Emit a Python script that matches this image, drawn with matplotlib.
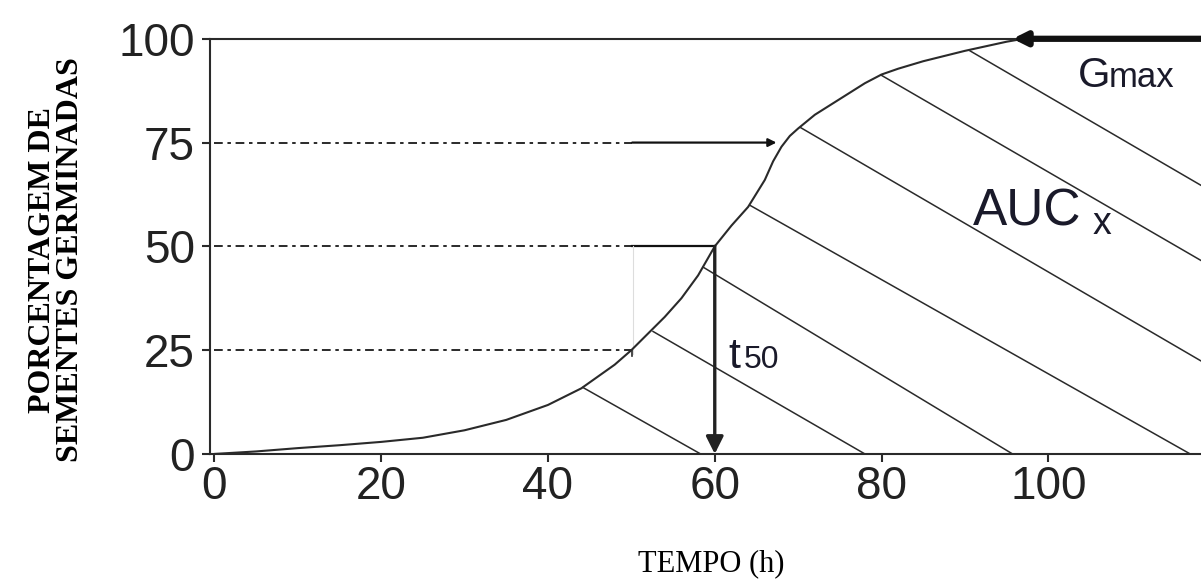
import matplotlib.pyplot as plt
import numpy as np

plt.rcParams['font.family'] = ['Liberation Sans', 'DejaVu Sans']

# curva de germinacao acumulada
tempo = [0, 5, 10, 15, 20, 25, 30, 35, 40, 44, 48, 50, 52, 54, 56, 58, 60,
         62, 64, 66, 67, 68, 69, 70, 72, 75, 78, 80, 82, 85, 90, 95, 97, 118.3]
germ = [0, 0.6, 1.4, 2.1, 2.9, 3.9, 5.7, 8.2, 11.8, 15.8, 21.5, 25, 29, 33,
        37.5, 43, 50, 55, 59.5, 66, 70.5, 74, 76.6, 78.4, 81.7, 85.5, 89.3,
        91.4, 92.8, 94.6, 97.1, 99.3, 100, 100]

# linhas de hachura da area sob a curva (inicio na curva, fim na borda)
hatch_x0 = [44.2, 52.6, 58.6, 64.3, 70.3, 79.9, 90.6]
hatch_y0 = [16.0, 29.5, 45.0, 59.8, 78.6, 91.3, 97.1]
hatch_x1 = [58.3, 78.0, 95.7, 117.0, 118.3, 118.3, 118.3]
hatch_y1 = [0, 0, 0, 0, 22.4, 46.6, 64.7]

niveis = [75, 50, 25]
xticks = [0, 20, 40, 60, 80, 100]
yticks = [0, 25, 50, 75, 100]
t50 = 60
gmax_x = 95.7

cor = '#2a2a2a'
cor_txt = '#1a1a2a'

fig = plt.figure(figsize=(12.01, 5.79), dpi=100)
ax = fig.add_axes([0.175, 0.216, 0.825, 0.717])

ax.plot(tempo, germ, color=cor, lw=1.5, solid_capstyle='round',
        solid_joinstyle='round', zorder=3)

for x0, y0, x1, y1 in zip(hatch_x0, hatch_y0, hatch_x1, hatch_y1):
    ax.plot([x0, x1], [y0, y1], color=cor, lw=1.1, clip_on=False)

# linhas tracejadas de referencia
for nivel in niveis:
    ax.plot([0, 50.1], [nivel, nivel], color=cor, lw=1.4,
            dashes=(4.5, 2.4, 1.8, 2.4))

# setas horizontais para 75 e 50
ax.annotate('', xy=(67.4, 75), xytext=(50.1, 75),
            arrowprops=dict(arrowstyle='-|>', lw=1.6, color='#111',
                            mutation_scale=12, shrinkA=0, shrinkB=0))
ax.plot([50.1, t50], [50, 50], color='#111', lw=1.6)
ax.plot([50.2, 50.2], [50, 24], color='#dddddd', lw=0.8)
ax.plot([50.1, 50.1], [25, 23.5], color=cor, lw=1.2)

# seta t50
ax.annotate('', xy=(t50, 0), xytext=(t50, 50),
            arrowprops=dict(arrowstyle='-|>', lw=2.4, color='#222',
                            mutation_scale=26, shrinkA=0, shrinkB=0))

# seta Gmax
ax.annotate('', xy=(gmax_x, 100), xytext=(118.3, 100),
            arrowprops=dict(arrowstyle='-|>', lw=4.5, color='#111',
                            mutation_scale=20, shrinkA=0, shrinkB=0),
            annotation_clip=False)

# rotulos
ax.text(61.6, 20.7, 't', fontsize=31, color=cor_txt, va='baseline')
ax.text(63.5, 20.7, '50', fontsize=23, color=cor_txt, va='baseline')
ax.text(103.5, 88.4, 'G', fontsize=30, color=cor_txt, va='baseline')
ax.text(107.2, 88.4, 'max', fontsize=25, color=cor_txt, va='baseline')
ax.text(91.0, 55.0, 'AUC', fontsize=37, color=cor_txt, va='baseline')
ax.text(105.3, 53.0, 'x', fontsize=27, color=cor_txt, va='baseline')

ax.set_xlim(-0.5, 118.3)
ax.set_ylim(0, 100)
ax.set_xticks(xticks)
ax.set_yticks(yticks)
ax.tick_params(axis='both', labelsize=33, colors=cor, labelcolor='#222',
               length=6, width=1.5, direction='out')
ax.tick_params(axis='x', pad=2)
ax.tick_params(axis='y', pad=5)

ax.spines['right'].set_visible(False)
for s in ['left', 'bottom', 'top']:
    ax.spines[s].set_linewidth(1.5)
    ax.spines[s].set_color(cor)

fig.text(0.047, 0.551, 'PORCENTAGEM DE\nSEMENTES GERMINADAS', rotation=90,
         ha='center', va='center', fontsize=23, fontweight='bold',
         family='Liberation Serif', linespacing=0.95)
fig.text(0.592, 0.013, 'TEMPO (h)', ha='center', va='baseline', fontsize=22,
         family='Liberation Serif')

fig.savefig('out.png', dpi=100)
